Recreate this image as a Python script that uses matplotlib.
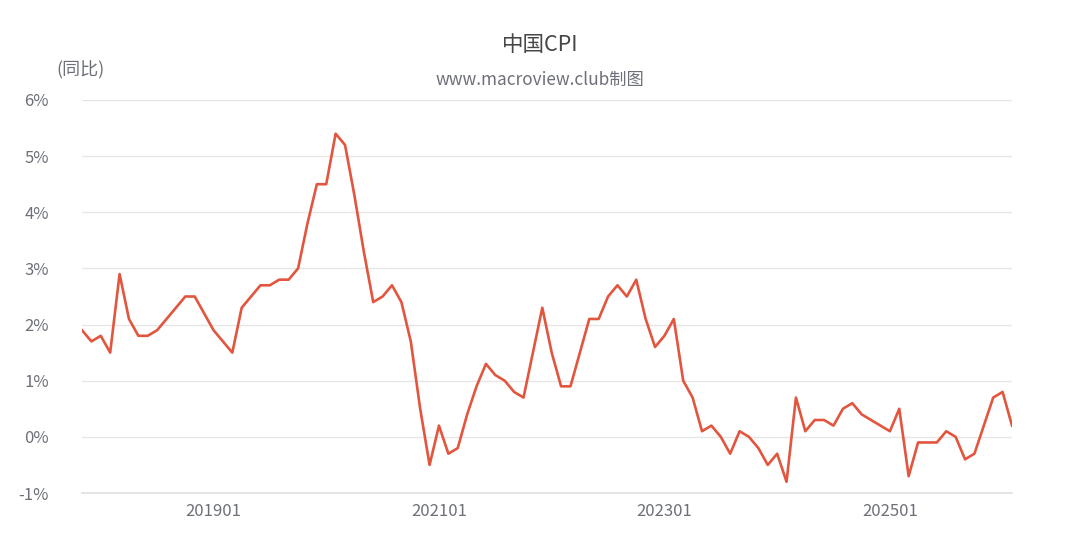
import matplotlib
matplotlib.use('Agg')
import matplotlib.pyplot as plt
from matplotlib.ticker import FixedLocator, FuncFormatter
import pandas as pd

# Data: China CPI YoY (%), monthly
Months = [p.strftime('%Y%m') for p in pd.period_range('2017-11', periods=100, freq='M')]
CPI = [1.9, 1.7, 1.8,
       1.5, 2.9, 2.1, 1.8, 1.8, 1.9, 2.1, 2.3, 2.5, 2.5, 2.2, 1.9,
       1.7, 1.5, 2.3, 2.5, 2.7, 2.7, 2.8, 2.8, 3.0, 3.8, 4.5, 4.5,
       5.4, 5.2, 4.3, 3.3, 2.4, 2.5, 2.7, 2.4, 1.7, 0.5, -0.5, 0.2,
       -0.3, -0.2, 0.4, 0.9, 1.3, 1.1, 1.0, 0.8, 0.7, 1.5, 2.3, 1.5,
       0.9, 0.9, 1.5, 2.1, 2.1, 2.5, 2.7, 2.5, 2.8, 2.1, 1.6, 1.8,
       2.1, 1.0, 0.7, 0.1, 0.2, 0.0, -0.3, 0.1, 0.0, -0.2, -0.5, -0.3,
       -0.8, 0.7, 0.1, 0.3, 0.3, 0.2, 0.5, 0.6, 0.4, 0.3, 0.2, 0.1,
       0.5, -0.7, -0.1, -0.1, -0.1, 0.1, 0.0, -0.4, -0.3, 0.2, 0.7, 0.8,
       0.2]
TickLabels = ['201901', '202101', '202301', '202501']
YTicks = [-1, 0, 1, 2, 3, 4, 5, 6]

# Styles
plt.rcParams['font.family'] = ['Noto Sans CJK SC', 'DejaVu Sans']
LineColor = '#E2553F'
TextColor = '#6E7079'
GridColor = '#E6E6E6'

fig = plt.figure(figsize=(10.8, 5.5), dpi=100)
ax = fig.add_axes([82/1080, 57/550, 930/1080, 393/550])

x = list(range(len(Months)))
ax.plot(x, CPI, c=LineColor, lw=1.9, solid_joinstyle='round')

ax.set_xlim(0, len(Months) - 1)
ax.set_ylim(-1, 6)
ax.yaxis.set_major_locator(FixedLocator(YTicks))
ax.yaxis.set_major_formatter(FuncFormatter(lambda v, p: '%d%%' % v))
ax.set_xticks([Months.index(t) for t in TickLabels])
ax.set_xticklabels(TickLabels)
ax.grid(axis='y', color=GridColor, lw=1)
ax.set_axisbelow(True)
for s in ['top', 'right', 'left']:
    ax.spines[s].set_visible(False)
ax.spines['bottom'].set_color('#E0E0E0')
ax.spines['bottom'].set_linewidth(1.2)
ax.tick_params(axis='both', length=0, labelsize=12, labelcolor=TextColor)
ax.tick_params(axis='y', pad=24)
ax.tick_params(axis='x', pad=7)

fig.text(0.5, 1 - 45/550, '中国CPI', ha='center', va='center', fontsize=15.5, color='#464646')
fig.text(0.5, 1 - 80/550, 'www.macroview.club制图', ha='center', va='center', fontsize=12.4, color=TextColor)
fig.text(81/1080, 1 - 70/550, '(同比)', ha='center', va='center', fontsize=13, color=TextColor)

fig.savefig('out.png', dpi=100)
